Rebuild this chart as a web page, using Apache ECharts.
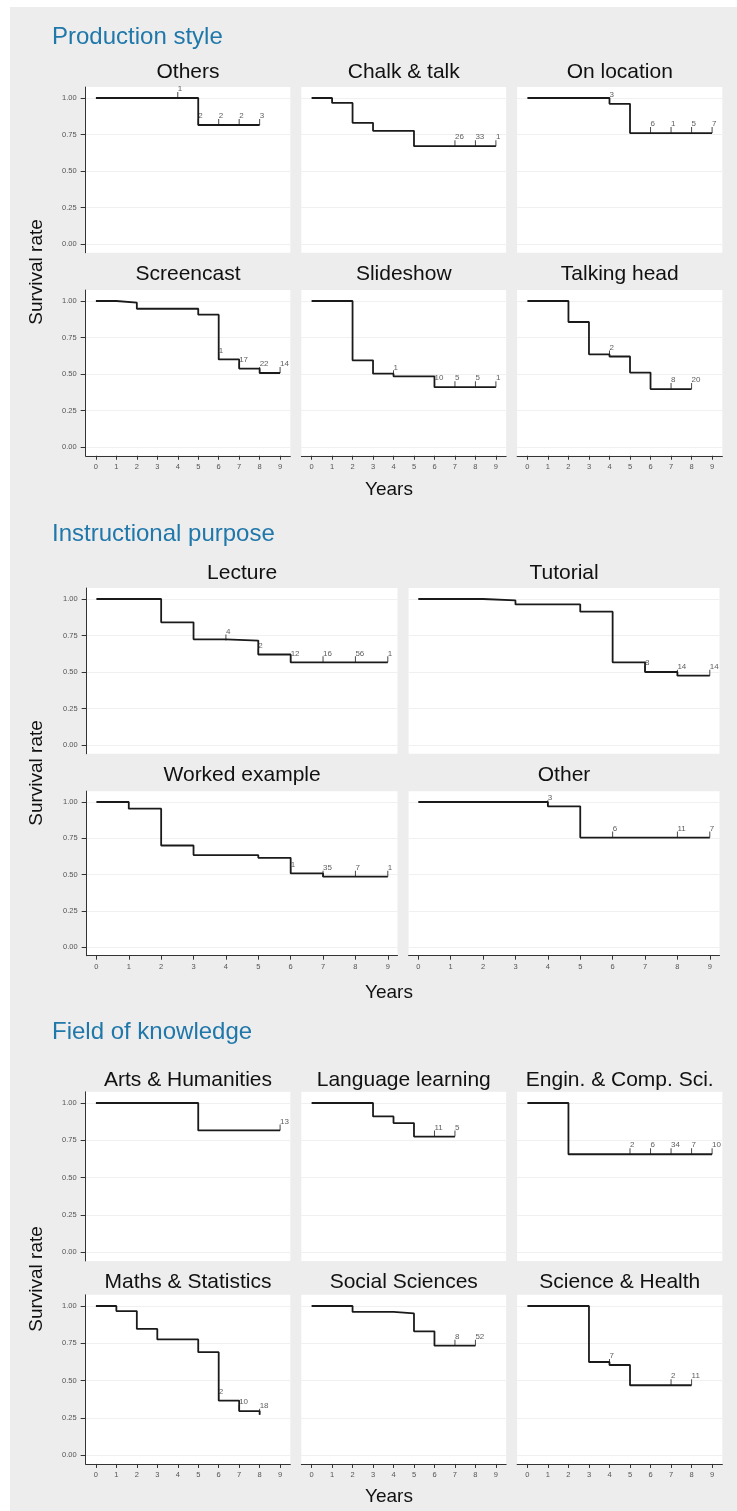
<!DOCTYPE html>
<html>
<head>
<meta charset="utf-8">
<script src="https://cdn.jsdelivr.net/npm/echarts@6/dist/echarts.min.js"></script>
<style>
  html, body { margin: 0; padding: 0; background: #fff; }
  #chart { width: 737px; height: 1511px; }
</style>
</head>
<body>
<div id="chart"></div>
<script>
// tick values
var years = [0, 1, 2, 3, 4, 5, 6, 7, 8, 9];
var yTicks = [0, 0.25, 0.5, 0.75, 1];

// Production style: [year, survival] steps, and censor marks [year, count]
var othersSteps = [[0, 1], [5, 0.815], [8, 0.815]];
var othersCensor = [[4, 1], [5, 2], [6, 2], [7, 2], [8, 3]];
var chalkSteps = [[0, 1], [1, 0.966], [2, 0.83], [3, 0.775], [5, 0.67], [9, 0.67]];
var chalkCensor = [[7, 26], [8, 33], [9, 1]];
var locationSteps = [[0, 1], [4, 0.96], [5, 0.76], [9, 0.76]];
var locationCensor = [[4, 3], [6, 6], [7, 1], [8, 5], [9, 7]];
var screencastSteps = [[0, 1], [1, 0.989], [2, 0.947], [5, 0.906], [6, 0.6], [7, 0.537], [8, 0.507], [9, 0.507]];
var screencastCensor = [[6, 1], [7, 17], [8, 22], [9, 14]];
var slideshowSteps = [[0, 1], [2, 0.594], [3, 0.502], [4, 0.484], [6, 0.41], [9, 0.41]];
var slideshowCensor = [[4, 1], [6, 10], [7, 5], [8, 5], [9, 1]];
var talkingSteps = [[0, 1], [2, 0.856], [3, 0.635], [4, 0.62], [5, 0.51], [6, 0.397], [8, 0.397]];
var talkingCensor = [[4, 2], [7, 8], [8, 20]];

// Instructional purpose
var lectureSteps = [[0, 1], [2, 0.84], [3, 0.724], [4, 0.715], [5, 0.62], [6, 0.566], [9, 0.566]];
var lectureCensor = [[4, 4], [5, 2], [6, 12], [7, 16], [8, 56], [9, 1]];
var tutorialSteps = [[0, 1], [2, 0.99], [3, 0.963], [5, 0.913], [6, 0.566], [7, 0.5], [8, 0.475], [9, 0.475]];
var tutorialCensor = [[7, 8], [8, 14], [9, 14]];
var workedSteps = [[0, 1], [1, 0.954], [2, 0.7], [3, 0.634], [5, 0.615], [6, 0.508], [7, 0.485], [9, 0.485]];
var workedCensor = [[6, 1], [7, 35], [8, 7], [9, 1]];
var otherSteps = [[0, 1], [4, 0.97], [5, 0.755], [9, 0.755]];
var otherCensor = [[4, 3], [6, 6], [8, 11], [9, 7]];

// Field of knowledge
var artsSteps = [[0, 1], [5, 0.816], [9, 0.816]];
var artsCensor = [[9, 13]];
var languageSteps = [[0, 1], [3, 0.91], [4, 0.865], [5, 0.775], [7, 0.775]];
var languageCensor = [[6, 11], [7, 5]];
var enginSteps = [[0, 1], [2, 0.656], [9, 0.656]];
var enginCensor = [[5, 2], [6, 6], [7, 34], [8, 7], [9, 10]];
var mathsSteps = [[0, 1], [1, 0.966], [2, 0.846], [3, 0.776], [5, 0.69], [6, 0.365], [7, 0.295], [8, 0.27]];
var mathsCensor = [[6, 2], [7, 10], [8, 18]];
var socialSteps = [[0, 1], [2, 0.96], [4, 0.95], [5, 0.83], [6, 0.734], [8, 0.734]];
var socialCensor = [[7, 8], [8, 52]];
var scienceSteps = [[0, 1], [3, 0.624], [4, 0.604], [5, 0.468], [8, 0.468]];
var scienceCensor = [[4, 7], [7, 2], [8, 11]];

var font = '"Liberation Sans", Arial, sans-serif';
var lineColor = '#1a1a1a';

// layout: pixel position of year 0 / year 9 per column, of 1.00 / 0.00 per row
var col3 = [[95.9, 280.1], [311.6, 495.9], [527.4, 712.1]];
var col2 = [[96.4, 387.8], [418.3, 709.8]];

var panels = [
  { title: 'Others', steps: othersSteps, censor: othersCensor, col: col3[0], row: [98, 244], ty: 72, pad: 0.5, first: true, bottom: false },
  { title: 'Chalk & talk', steps: chalkSteps, censor: chalkCensor, col: col3[1], row: [98, 244], ty: 72, pad: 0.5, first: false, bottom: false },
  { title: 'On location', steps: locationSteps, censor: locationCensor, col: col3[2], row: [98, 244], ty: 72, pad: 0.5, first: false, bottom: false },
  { title: 'Screencast', steps: screencastSteps, censor: screencastCensor, col: col3[0], row: [301, 447], ty: 274, pad: 0.5, first: true, bottom: true },
  { title: 'Slideshow', steps: slideshowSteps, censor: slideshowCensor, col: col3[1], row: [301, 447], ty: 274, pad: 0.5, first: false, bottom: true },
  { title: 'Talking head', steps: talkingSteps, censor: talkingCensor, col: col3[2], row: [301, 447], ty: 274, pad: 0.5, first: false, bottom: true },

  { title: 'Lecture', steps: lectureSteps, censor: lectureCensor, col: col2[0], row: [599, 745], ty: 573, pad: 0.3, first: true, bottom: false },
  { title: 'Tutorial', steps: tutorialSteps, censor: tutorialCensor, col: col2[1], row: [599, 745], ty: 573, pad: 0.3, first: false, bottom: false },
  { title: 'Worked example', steps: workedSteps, censor: workedCensor, col: col2[0], row: [802, 947], ty: 775, pad: 0.3, first: true, bottom: true },
  { title: 'Other', steps: otherSteps, censor: otherCensor, col: col2[1], row: [802, 947], ty: 775, pad: 0.3, first: false, bottom: true },

  { title: 'Arts & Humanities', steps: artsSteps, censor: artsCensor, col: col3[0], row: [1103, 1252], ty: 1080, pad: 0.5, first: true, bottom: false },
  { title: 'Language learning', steps: languageSteps, censor: languageCensor, col: col3[1], row: [1103, 1252], ty: 1080, pad: 0.5, first: false, bottom: false },
  { title: 'Engin. & Comp. Sci.', steps: enginSteps, censor: enginCensor, col: col3[2], row: [1103, 1252], ty: 1080, pad: 0.5, first: false, bottom: false },
  { title: 'Maths & Statistics', steps: mathsSteps, censor: mathsCensor, col: col3[0], row: [1306, 1455], ty: 1282, pad: 0.5, first: true, bottom: true },
  { title: 'Social Sciences', steps: socialSteps, censor: socialCensor, col: col3[1], row: [1306, 1455], ty: 1282, pad: 0.5, first: false, bottom: true },
  { title: 'Science & Health', steps: scienceSteps, censor: scienceCensor, col: col3[2], row: [1306, 1455], ty: 1282, pad: 0.5, first: false, bottom: true }
];

// survival value at time t (right-continuous)
function survAt(steps, t) {
  var v = steps[0][1];
  for (var i = 0; i < steps.length; i++) {
    if (steps[i][0] <= t) v = steps[i][1];
  }
  return v;
}

var grid = [], xAxis = [], yAxis = [], series = [];
var graphic = [
  { type: 'rect', shape: { x: 0, y: 0, width: 737, height: 7 }, style: { fill: '#fff' } },
  { type: 'rect', shape: { x: 0, y: 0, width: 10, height: 1511 }, style: { fill: '#fff' } }
];

var yMin = -0.06, yMax = 1.075;

panels.forEach(function (p, i) {
  var pxYear = (p.col[1] - p.col[0]) / 9;
  var pxUnit = p.row[1] - p.row[0];
  var xMin = -p.pad, xMax = 9 + p.pad;
  var left = p.col[0] + xMin * pxYear;
  var width = (xMax - xMin) * pxYear;
  grid.push({
    left: left,
    top: p.row[0] - (yMax - 1) * pxUnit,
    width: width,
    height: (yMax - yMin) * pxUnit,
    show: true,
    backgroundColor: '#fff',
    borderWidth: 0
  });
  xAxis.push({
    gridIndex: i,
    type: 'value',
    min: xMin,
    max: xMax,
    show: p.bottom,
    axisLine: { onZero: false, lineStyle: { color: '#333', width: 1 } },
    axisTick: { customValues: years, length: 4, lineStyle: { color: '#333' } },
    axisLabel: { customValues: years, margin: 7, fontSize: 7.5, fontFamily: font, color: '#555' },
    splitLine: { show: false }
  });
  yAxis.push({
    gridIndex: i,
    type: 'value',
    min: yMin,
    max: yMax,
    axisLine: { show: p.first, onZero: false, lineStyle: { color: '#333', width: 1 } },
    axisTick: { show: p.first, customValues: yTicks, length: 5, lineStyle: { color: '#333' } },
    axisLabel: {
      show: p.first, customValues: yTicks, margin: 9, fontSize: 7.5, fontFamily: font, color: '#555',
      formatter: function (v) { return v.toFixed(2); }
    },
    splitLine: { show: true, lineStyle: { color: '#f0f0f0', width: 1 } }
  });
  series.push({
    type: 'line',
    xAxisIndex: i,
    yAxisIndex: i,
    step: 'end',
    data: p.steps,
    showSymbol: false,
    silent: true,
    lineStyle: { color: lineColor, width: 1.8 }
  });
  series.push({
    type: 'scatter',
    xAxisIndex: i,
    yAxisIndex: i,
    data: p.censor.map(function (c) { return [c[0], survAt(p.steps, c[0]), c[1]]; }),
    symbol: 'rect',
    symbolSize: [1, 6],
    symbolOffset: [0, -3],
    itemStyle: { color: lineColor },
    label: {
      show: true,
      position: 'top',
      align: 'left',
      distance: -1,
      fontSize: 8,
      fontFamily: font,
      color: '#333',
      formatter: function (d) { return d.value[2]; }
    }
  });
  graphic.push({
    type: 'text',
    x: left + width / 2,
    y: p.ty,
    style: { text: p.title, textAlign: 'center', textVerticalAlign: 'middle', fontSize: 21, fontFamily: font, fill: '#111' }
  });
});

// section titles
[['Production style', 37], ['Instructional purpose', 534], ['Field of knowledge', 1032]].forEach(function (s) {
  graphic.push({
    type: 'text', x: 52, y: s[1],
    style: { text: s[0], textVerticalAlign: 'middle', fontSize: 24, fontFamily: font, fill: '#1f77aa' }
  });
});

// axis titles
[272, 773, 1279].forEach(function (y) {
  graphic.push({
    type: 'text', x: 37, y: y, rotation: Math.PI / 2,
    style: { text: 'Survival rate', textAlign: 'center', textVerticalAlign: 'middle', fontSize: 19, fontFamily: font, fill: '#111' }
  });
});
[490, 993, 1497].forEach(function (y) {
  graphic.push({
    type: 'text', x: 389, y: y,
    style: { text: 'Years', textAlign: 'center', textVerticalAlign: 'middle', fontSize: 19, fontFamily: font, fill: '#111' }
  });
});

var myChart = echarts.init(document.getElementById('chart'));
myChart.setOption({
  backgroundColor: '#ededed',
  animation: false,
  grid: grid,
  xAxis: xAxis,
  yAxis: yAxis,
  series: series,
  graphic: graphic
});
</script>
</body>
</html>
